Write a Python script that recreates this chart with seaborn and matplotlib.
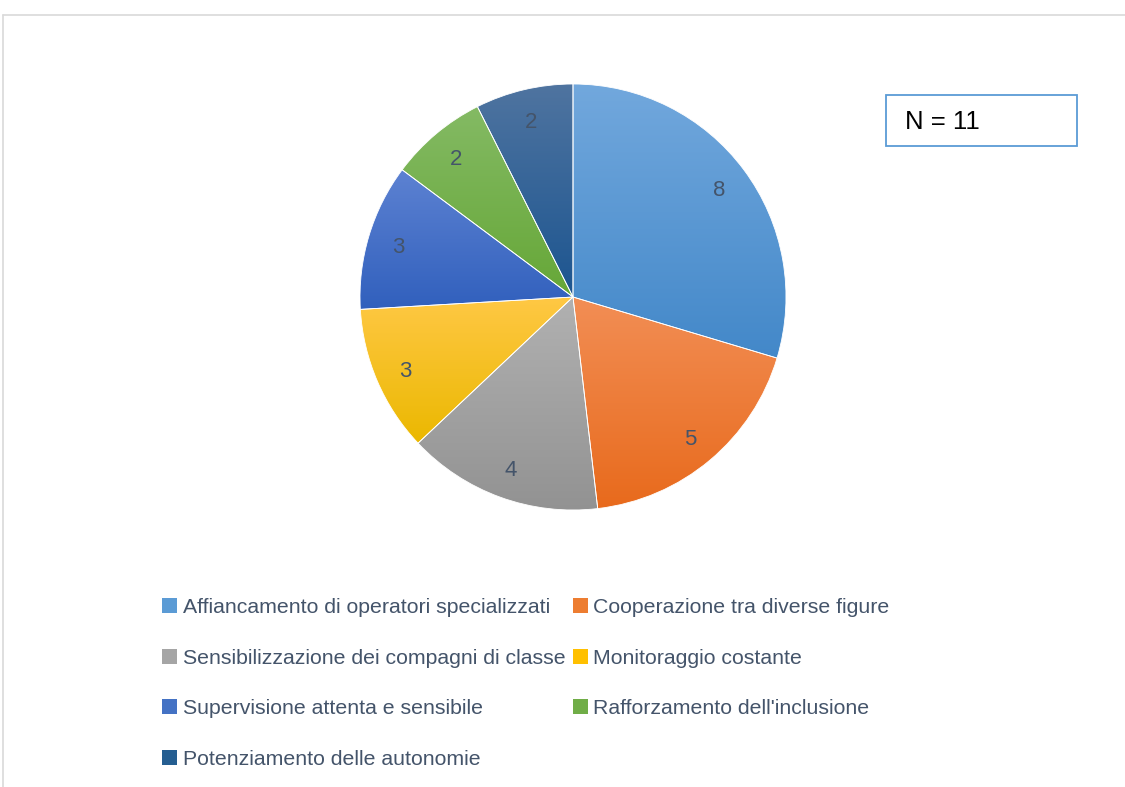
import numpy as np
import matplotlib
matplotlib.use("Agg")
import matplotlib.pyplot as plt
import seaborn as sns
from matplotlib.patches import Patch, Rectangle
from matplotlib.lines import Line2D
from matplotlib.colors import to_rgb

categories = [
    "Affiancamento di operatori specializzati",
    "Cooperazione tra diverse figure",
    "Sensibilizzazione dei compagni di classe",
    "Monitoraggio costante",
    "Supervisione attenta e sensibile",
    "Rafforzamento dell'inclusione",
    "Potenziamento delle autonomie",
]
values = [8, 5, 4, 3, 3, 2, 2]
n_label = "N = 11"

top_colors = ["#72a8dd", "#f28e55", "#b1b1b1", "#ffc845", "#5d82d2", "#84ba64", "#4f74a0"]
bottom_colors = ["#4388c9", "#e86a1c", "#929292", "#ebb800", "#3160bd", "#66a737", "#1c5590"]
mid_colors = ["#5b9bd5", "#ed7d31", "#a5a5a5", "#ffc000", "#4472c4", "#70ad47", "#255e91"]

sns.set_theme(style="white")
plt.rcParams["font.family"] = ["Liberation Sans", "DejaVu Sans"]
text_color = "#44546a"

W, H = 1125, 787
fig = plt.figure(figsize=(W / 100, H / 100), dpi=100)
fig.patch.set_facecolor("white")

cx, cy, r = 573, 297, 213
ax = fig.add_axes([(cx - r) / W, (H - cy - r) / H, 2 * r / W, 2 * r / H])
wedges, texts = ax.pie(
    values, colors=mid_colors, startangle=90, counterclock=False,
    labels=[str(v) for v in values], labeldistance=0.855, radius=1.0,
    wedgeprops=dict(linewidth=0.6, edgecolor="white"),
    textprops=dict(color=text_color, fontsize=16, ha="center", va="center_baseline"),
)

# vertical gradient per slice
for w, tc, bc in zip(wedges, top_colors, bottom_colors):
    path = w.get_path().transformed(w.get_patch_transform())
    verts = path.vertices
    x0, x1 = verts[:, 0].min(), verts[:, 0].max()
    y0, y1 = verts[:, 1].min(), verts[:, 1].max()
    t = np.linspace(0, 1, 256)[:, None]
    ct, cb = np.array(to_rgb(tc)), np.array(to_rgb(bc))
    grad = (ct[None, :] * (1 - t) + cb[None, :] * t)[:, None, :]
    im = ax.imshow(grad, extent=[x0, x1, y0, y1], origin="upper", aspect="auto",
                   zorder=w.get_zorder() + 0.1, interpolation="bilinear")
    im.set_clip_path(w)
for w in wedges:
    w.set_facecolor("none")
    w.set_zorder(3)
for tx in texts:
    tx.set_zorder(5)
ax.set_xlim(-1.0, 1.0)
ax.set_ylim(-1.0, 1.0)
ax.set_aspect("equal")
ax.axis("off")

# frame lines
fig.add_artist(Line2D([3 / W, 1], [1 - 15 / H, 1 - 15 / H], color="#d9d9d9", lw=1.2, transform=fig.transFigure))
fig.add_artist(Line2D([3 / W, 3 / W], [0, 1 - 15 / H], color="#d9d9d9", lw=1.2, transform=fig.transFigure))

# N box
fig.add_artist(Rectangle((886 / W, 1 - 146 / H), (1077 - 886) / W, (146 - 95) / H,
                         transform=fig.transFigure, facecolor="white", edgecolor="#5b9bd5", lw=1.3))
fig.text(905 / W, 1 - 122 / H, n_label, fontsize=18.5, color="black", va="center", ha="left")

# legend, row-wise order
order = [0, 2, 4, 6, 1, 3, 5]
handles = [Patch(facecolor=mid_colors[i], edgecolor="none", label=categories[i]) for i in order]
leg = fig.legend(handles=handles, ncol=2, loc="upper left",
                 bbox_to_anchor=(162 / W, 1 - 598 / H), frameon=False,
                 fontsize=15.3, handlelength=0.72, handleheight=0.72, handletextpad=0.25,
                 columnspacing=0.35, labelspacing=1.49, borderpad=0, borderaxespad=0)
for tx in leg.get_texts():
    tx.set_color(text_color)

fig.savefig("out.png", dpi=100, facecolor="white")
